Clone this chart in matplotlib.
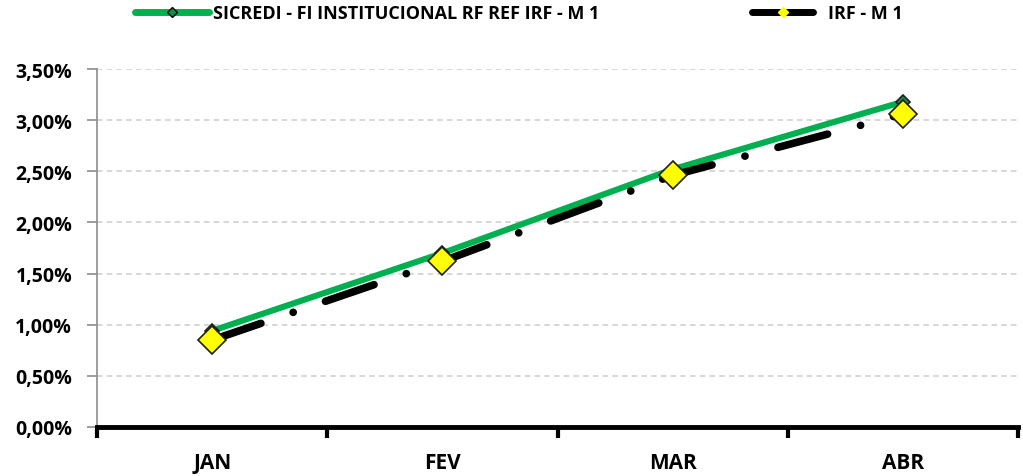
import matplotlib
matplotlib.use("Agg")
import matplotlib.pyplot as plt
from matplotlib.lines import Line2D
from matplotlib.ticker import FuncFormatter, FixedLocator

# data
months = ["JAN", "FEV", "MAR", "ABR"]
sicredi = [0.94, 1.70, 2.52, 3.18]
irf = [0.85, 1.62, 2.46, 3.06]
yticks = [0.0, 0.5, 1.0, 1.5, 2.0, 2.5, 3.0, 3.5]

plt.rcParams['font.family'] = ['Open Sans', 'DejaVu Sans']
plt.rcParams['font.weight'] = 'bold'
plt.rcParams['lines.scale_dashes'] = False

GREEN = "#00b050"

fig = plt.figure(figsize=(10.23, 4.77), dpi=100)
ax = fig.add_axes([0.095, 0.103, 0.900, 0.750])

x = list(range(len(months)))

ax.plot(x, sicredi, color=GREEN, lw=4.4, solid_capstyle='round', zorder=3)
ax.plot(x, sicredi, ls='none', marker='D', ms=7, mfc='#1a8a4a', mec='#1f1f1f',
        mew=1.2, zorder=4)

# long dash - dot pattern, like the Excel "long dash dot" line
blk, = ax.plot(x, irf, color='black', lw=5.5, dash_capstyle='round', zorder=5)
blk.set_dashes((37, 24.5, 0.1, 24.5))
ax.plot(x, irf, ls='none', marker='D', ms=14, mfc='#ffff00', mec='#1f1f1f',
        mew=1.2, zorder=6)

ax.set_xlim(-0.5, len(months) - 0.5)
ax.set_ylim(0, 3.5)

ax.set_xticks(x)
ax.set_xticklabels(months, fontsize=15, fontweight='bold')
ax.xaxis.set_minor_locator(FixedLocator([i - 0.5 for i in range(len(months) + 1)]))
ax.tick_params(axis='x', which='major', length=0, pad=18)
ax.tick_params(axis='x', which='minor', length=8, width=3, color='black',
               direction='out')

ax.set_yticks(yticks)
ax.yaxis.set_major_formatter(FuncFormatter(lambda v, p: f"{v:.2f}%".replace('.', ',')))
ax.tick_params(axis='y', length=7, width=1.2, color='#8c8c8c', labelsize=14, pad=11)
for lab in ax.get_yticklabels():
    lab.set_fontweight('bold')

ax.grid(axis='y', color='#d4d4d4', lw=1.3, ls=(0, (4, 3)))
ax.set_axisbelow(True)

for s in ['top', 'right']:
    ax.spines[s].set_visible(False)
ax.spines['left'].set_color('#8c8c8c')
ax.spines['left'].set_linewidth(1.2)
ax.spines['bottom'].set_color('black')
ax.spines['bottom'].set_linewidth(3.5)

h1 = Line2D([], [], color=GREEN, lw=5, marker='D', ms=5, mfc='#1a8a4a',
            mec='black', mew=1, solid_capstyle='round')
h2 = Line2D([], [], color='black', lw=5, marker='D', ms=5, mfc='#ffff00',
            mec='#ffff00', solid_capstyle='round')
leg_kw = dict(loc='center left', frameon=False, borderpad=0, borderaxespad=0,
              prop={'size': 13, 'weight': 'bold'})
leg1 = fig.legend([h1], ["SICREDI - FI INSTITUCIONAL RF REF IRF - M 1"],
                  bbox_to_anchor=(135 / 1023, 1 - 14 / 477), handlelength=4.1,
                  handletextpad=0.2, **leg_kw)
leg2 = fig.legend([h2], ["IRF - M 1"],
                  bbox_to_anchor=(752 / 1023, 1 - 14 / 477), handlelength=3.4,
                  handletextpad=0.8, **leg_kw)

fig.savefig("out.png", dpi=100)
